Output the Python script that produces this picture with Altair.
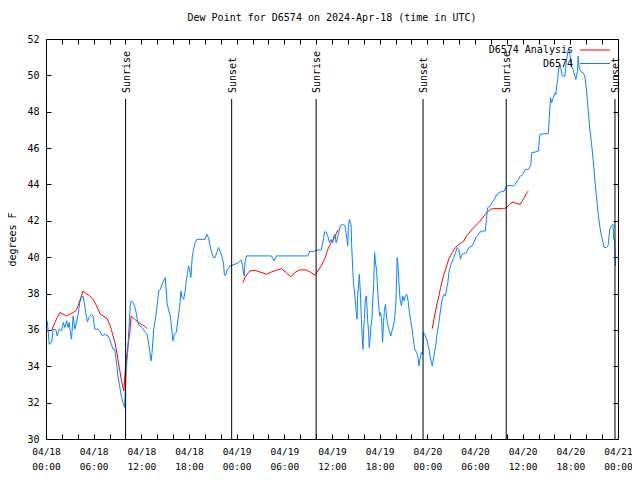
import altair as alt
import pandas as pd

FONT = "DejaVu Sans Mono"
BASE = "2024-04-18T00:00:00Z"

TITLE = "Dew Point for D6574 on 2024-Apr-18 (time in UTC)"
SERIES = ["D6574 Analysis", "D6574"]
COLORS = ["#ff0000", "#0a84ff"]

# Observed D6574 dew point (hours after 2024-04-18 00:00 UTC, degrees F)
BLUE_HOURS = [
    0.16, 0.41, 0.70, 0.91, 1.25, 1.41, 1.67, 1.96, 2.17, 2.38, 2.58, 2.79, 2.92, 3.08, 3.21,
    3.42, 3.63, 3.84, 4.04, 4.25, 4.46, 4.67, 4.88, 5.00, 5.21, 5.42, 5.71, 5.92, 6.13, 6.55,
    6.76, 7.09, 7.38, 7.80, 8.01, 8.22, 8.43, 8.64, 8.76, 8.93, 9.05, 9.26, 9.47, 9.68, 9.89,
    10.10, 10.31, 10.43, 10.60, 10.72, 10.93, 11.14, 11.35, 11.56, 11.77, 12.10, 12.52, 12.73,
    12.94, 13.14, 13.23, 13.35, 13.56, 13.77, 13.98, 14.19, 14.40, 14.60, 14.81, 15.02, 15.23,
    15.44, 15.65, 15.86, 15.98, 16.15, 16.40, 16.61, 16.82, 16.98, 17.11, 17.32, 17.53, 17.65,
    17.82, 17.94, 18.07, 18.24, 18.40, 18.57, 18.78, 18.99, 20.03, 20.24, 20.45, 20.66, 20.87,
    21.07, 21.28, 21.49, 21.70, 21.91, 22.12, 22.33, 22.45, 22.58, 22.74, 23.16, 23.79, 24.20,
    24.54, 24.71, 24.83, 24.96, 25.04, 25.25, 28.38, 28.71, 29.00, 32.97, 33.18, 33.60, 34.22,
    34.64, 34.85, 35.06, 35.27, 35.47, 35.68, 35.89, 36.10, 36.23, 36.39, 36.52, 36.64, 37.06,
    37.35, 37.64, 37.77, 37.89, 37.98, 38.06, 38.19, 38.31, 38.40, 38.48, 38.61, 38.73, 38.90,
    39.02, 39.15, 39.23, 39.31, 39.44, 39.57, 39.65, 39.77, 39.90, 39.98, 40.07, 40.19, 40.32,
    40.40, 40.48, 40.61, 40.69, 40.82, 40.90, 41.03, 41.11, 41.24, 41.36, 41.49, 41.61, 41.74,
    41.86, 41.99, 42.11, 42.24, 42.36, 42.49, 42.61, 42.74, 42.86, 42.99, 43.20, 43.40, 43.61,
    43.82, 44.03, 44.11, 44.20, 44.32, 44.45, 44.57, 44.74, 44.91, 45.07, 45.24, 45.41, 45.58,
    45.74, 45.91, 46.08, 46.24, 46.41, 46.66, 46.83, 46.95, 47.08, 47.24, 47.41, 47.50, 47.66,
    47.91, 48.21, 48.41, 48.62, 48.83, 49.04, 49.25, 49.46, 49.67, 49.87, 50.08, 50.29, 50.42,
    50.58, 50.71, 50.92, 51.13, 51.34, 51.54, 51.75, 51.96, 52.17, 52.38, 52.92, 53.22, 53.63,
    53.84, 54.17, 54.47, 54.76, 55.30, 55.43, 55.59, 55.93, 56.14, 56.43, 56.76, 57.18, 57.68,
    57.93, 58.43, 58.85, 59.06, 59.27, 59.48, 59.68, 60.02, 60.31, 60.73, 61.02, 61.14, 61.56,
    61.98, 62.10, 62.19, 62.61, 63.23, 63.36, 63.44, 63.52, 63.65, 63.86, 64.07, 64.19, 64.28,
    64.40, 64.48, 64.61, 64.69, 64.82, 64.99, 65.32, 65.45, 65.61, 65.74, 65.86, 66.03, 66.15,
    66.36, 66.57, 66.69, 66.78, 66.90, 66.99, 67.11, 67.28, 67.61, 67.82, 68.03, 68.24, 68.45,
    68.66, 68.87, 69.08, 69.28, 69.49, 69.70, 69.91, 70.12, 70.25, 70.54, 70.75, 70.96, 71.16,
    71.37, 71.46, 71.58, 71.70,
]
BLUE_VALUES = [
    36.50, 35.21, 35.31, 36.04, 36.00, 35.67, 36.04, 35.95, 36.41, 36.13, 36.50, 36.13, 36.41, 35.86, 35.49,
    36.77, 36.04, 36.41, 36.86, 37.50, 37.78, 37.87, 37.32, 36.96, 36.44, 36.68, 36.86, 36.77, 36.04, 36.04,
    35.95, 35.67, 35.76, 35.67, 35.49, 35.21, 34.94, 34.94, 34.57, 34.02, 33.47, 32.92, 32.38, 32.01, 31.74,
    33.84, 34.94, 36.04, 37.32, 37.60, 37.50, 37.32, 36.96, 36.41, 36.22, 36.13, 35.86, 35.76,
    35.21, 34.57, 34.30, 34.76, 36.04, 36.59, 37.32, 38.14, 38.24, 38.51, 38.69, 38.88, 37.50,
    37.05, 36.77, 35.86, 35.40, 35.76, 35.86, 36.59, 37.23, 38.14, 37.78, 37.69, 38.14, 38.69,
    39.15, 39.52, 39.34, 38.88, 39.98, 40.43, 40.80, 40.98, 40.98, 41.26, 41.07, 40.62, 40.25,
    39.98, 39.98, 40.25, 40.53, 40.34, 40.07, 39.70, 39.06, 38.97, 39.24, 39.52, 39.61, 39.70,
    39.85, 39.61, 39.24, 38.97, 39.70, 40.07, 40.07, 39.79, 40.07, 40.07, 40.34, 40.29, 40.40,
    40.40, 40.80, 41.39, 41.39, 41.17, 40.80, 40.98, 40.80, 41.17, 41.26, 40.80, 40.98, 41.75,
    41.81, 41.72, 41.35, 40.98, 40.62, 41.63, 42.08, 41.90, 41.81, 40.62, 39.34, 38.42, 37.78,
    37.14, 36.59, 37.87, 38.24, 39.06, 38.05, 37.14, 35.86, 34.94, 36.04, 36.59, 37.69, 37.87,
    37.32, 36.59, 35.86, 35.03, 35.67, 36.22, 36.59, 37.50, 38.42, 40.25, 39.61, 39.34, 38.24,
    37.41, 36.77, 36.96, 36.59, 35.31, 36.41, 37.14, 37.41, 36.77, 36.31, 35.95, 35.67, 36.04,
    36.41, 37.32, 38.42, 39.98, 39.43, 38.42, 37.69, 37.32, 37.87, 37.60, 37.87, 37.96, 37.60,
    36.96, 36.50, 36.04, 35.49, 34.94, 34.76, 34.48, 34.02, 34.39, 34.76, 34.66, 35.86, 35.76,
    35.49, 34.94, 34.39, 34.02, 34.57, 35.12, 35.86, 36.41, 37.14, 37.69, 37.96, 37.87, 38.24,
    38.60, 39.15, 39.52, 39.79, 39.98, 40.25, 40.53, 40.43, 39.88, 40.16, 40.25, 40.53, 40.62,
    40.80, 41.13, 41.26, 41.44, 41.44, 42.08, 42.72, 42.81, 43.00, 43.18, 43.46, 43.58, 43.64,
    43.91, 43.95, 43.91, 44.01, 44.19, 44.28, 44.46, 44.55, 44.83, 44.83, 45.05, 45.75, 45.78,
    45.84, 46.48, 46.75, 46.79, 46.79, 47.76, 48.31, 48.77, 48.49, 48.77, 49.04, 48.95, 49.41,
    49.77, 50.14, 50.51, 50.60, 50.32, 49.96, 49.96, 50.60, 51.06, 51.42, 51.33, 50.97, 50.51,
    50.32, 49.96, 49.77, 49.96, 50.23, 51.06, 50.42, 50.23, 50.14, 49.96, 49.23, 48.13, 47.03,
    46.30, 45.38, 44.28, 43.36, 42.45, 41.72, 41.17, 40.80, 40.53, 40.53, 40.62, 41.53, 41.72,
    41.81, 40.98, 40.98, 39.52,
]

# D6574 Analysis, three separate segments
RED_HOURS_1 = [0.70, 1.12, 1.41, 1.75, 2.17, 2.58, 3.00, 3.42, 3.75, 4.04, 4.25, 4.46, 4.67, 5.00,
               5.51, 5.92, 6.26, 6.55, 6.84, 7.18, 7.68, 8.01, 8.22, 8.43, 8.64, 8.84, 9.05, 9.26,
               9.47, 9.68, 9.80, 10.01, 10.31, 10.55, 10.72, 11.14, 11.56, 11.98, 12.35, 12.73]
RED_VALUES_1 = [35.95, 36.41, 36.68, 36.96, 36.86, 36.77, 36.86, 36.96, 37.05, 37.32, 37.60, 37.87,
                38.14, 38.02, 37.87, 37.69, 37.41, 37.14, 36.86, 36.77, 36.63, 36.31, 36.04, 35.67,
                35.40, 34.94, 34.39, 33.84, 33.29, 32.84, 32.65, 34.00, 35.12, 35.90, 36.77, 36.59,
                36.44, 36.31, 36.22, 36.07]
RED_HOURS_2 = [24.79, 25.04, 25.46, 25.67, 26.29, 26.92, 27.75, 28.38, 29.00, 29.63, 30.26, 30.80,
               31.30, 31.93, 32.76, 33.39, 33.81, 34.22, 34.64, 35.06, 35.47, 35.89, 36.31, 36.73]
RED_VALUES_2 = [38.60, 38.88, 39.15, 39.24, 39.28, 39.19, 39.06, 39.19, 39.28, 39.37, 39.15, 38.91,
                39.15, 39.30, 39.30, 39.15, 39.01, 39.24, 39.52, 39.88, 40.43, 40.80, 41.07, 41.50]
RED_HOURS_3 = [48.62, 48.83, 49.04, 49.25, 49.46, 49.67, 49.87, 50.08, 50.29, 50.50, 50.71, 50.92,
               51.13, 51.34, 51.54, 51.75, 52.17, 52.59, 52.92, 53.22, 53.63, 54.05, 54.47, 54.88,
               55.30, 55.59, 55.93, 56.34, 57.60, 57.93, 58.35, 58.77, 59.18, 59.68, 60.02, 60.31,
               60.52, 60.73]
RED_VALUES_3 = [36.07, 36.59, 37.05, 37.50, 37.87, 38.33, 38.69, 39.06, 39.34, 39.61, 39.92, 40.07,
                40.25, 40.40, 40.53, 40.62, 40.76, 40.89, 41.17, 41.31, 41.53, 41.72, 41.90, 42.12,
                42.36, 42.49, 42.63, 42.67, 42.67, 42.72, 42.91, 43.03, 42.96, 42.91, 43.14, 43.36,
                43.55, 43.64]

SUN_HOURS = [10.02, 23.37, 34.00, 47.46, 57.93, 71.62]
SUN_LABELS = ["Sunrise", "Sunset", "Sunrise", "Sunset", "Sunrise", "Sunset"]

Y_TICKS = [30, 32, 34, 36, 38, 40, 42, 44, 46, 48, 50, 52]
X_TICK_HOURS = list(range(0, 73, 2))
X_DOMAIN_HOURS = [0, 72]

base_ms = int(pd.Timestamp(BASE).value // 10**6)


def to_ms(h):
    return base_ms + int(round(h * 3600000))


rows = []
for seg, (hs, vs) in enumerate([(RED_HOURS_1, RED_VALUES_1), (RED_HOURS_2, RED_VALUES_2),
                                (RED_HOURS_3, RED_VALUES_3)]):
    for h, v in zip(hs, vs):
        rows.append({"t": to_ms(h), "v": v, "series": SERIES[0], "seg": seg})
for h, v in zip(BLUE_HOURS, BLUE_VALUES):
    rows.append({"t": to_ms(h), "v": v, "series": SERIES[1], "seg": 10})
lines_df = pd.DataFrame(rows)

sun_df = pd.DataFrame({"t": [to_ms(h) for h in SUN_HOURS], "label": SUN_LABELS})

x_ticks = [to_ms(h) for h in X_TICK_HOURS]
x_scale = alt.Scale(type="utc", domain=[to_ms(X_DOMAIN_HOURS[0]), to_ms(X_DOMAIN_HOURS[1])], nice=False)
y_scale = alt.Scale(domain=[30, 52], nice=False, zero=False)
color_scale = alt.Scale(domain=SERIES, range=COLORS)

common_axis = dict(offset=-5, tickSize=5, domain=False, grid=False, tickColor="black",
                   labelFont=FONT, labelFontSize=10, labelColor="black",
                   titleFont=FONT, titleFontSize=10, titleFontWeight="normal", titleColor="black")

x_bottom_axis = dict(common_axis, labelFontSize=9.5)
x_bottom = alt.Axis(
    orient="bottom", values=x_ticks, title=None,
    labelExpr="utchours(datum.value) % 6 == 0 ? [utcFormat(datum.value, '%m/%d'), utcFormat(datum.value, '%H:%M')] : ''",
    labelPadding=7, labelBaseline="top", labelLineHeight=15, labelFlush=False, labelOverlap=False,
    **x_bottom_axis)
x_top = alt.Axis(orient="top", values=x_ticks, title=None, labels=False, **common_axis)
y_left = alt.Axis(orient="left", values=Y_TICKS, title="degrees F", labelPadding=7, titlePadding=9,
                  **common_axis)
y_right = alt.Axis(orient="right", values=Y_TICKS, title=None, labels=False, **common_axis)

lines = alt.Chart(lines_df).mark_line(strokeWidth=1, clip=True).encode(
    x=alt.X("t:T", scale=x_scale, axis=x_bottom),
    y=alt.Y("v:Q", scale=y_scale, axis=y_left),
    color=alt.Color("series:N", scale=color_scale, legend=None),
    detail="seg:N",
    order=alt.Order("t:Q"),
)

frame_axes = alt.Chart(lines_df).mark_line(opacity=0).encode(
    x=alt.X("t:T", scale=x_scale, axis=x_top),
    y=alt.Y("v:Q", scale=y_scale, axis=y_right),
    detail="seg:N",
)

sun_rules = alt.Chart(sun_df).mark_rule(color="black", strokeWidth=1).encode(
    x=alt.X("t:T", scale=x_scale, axis=None),
    y=alt.value(60),
    y2=alt.value(400),
)

sun_text = alt.Chart(sun_df).mark_text(angle=270, align="left", baseline="middle", font=FONT,
                                       fontSize=10, color="black", dy=1).encode(
    x=alt.X("t:T", scale=x_scale, axis=None),
    y=alt.value(54),
    text="label:N",
)

legend_layers = []
for i, (name, col) in enumerate(zip(SERIES, COLORS)):
    ldf = pd.DataFrame({"series": [name]})
    legend_layers.append(
        alt.Chart(ldf).mark_text(align="right", baseline="middle", font=FONT, fontSize=10,
                                 color="black").encode(
            x=alt.value(527), y=alt.value(11 + 13.5 * i), text="series:N")
    )
    legend_layers.append(
        alt.Chart(ldf).mark_rule(strokeWidth=1, color=col).encode(
            x=alt.value(534), x2=alt.value(564), y=alt.value(11 + 13.5 * i))
    )

chart = alt.layer(lines, frame_axes, sun_rules, sun_text, *legend_layers).resolve_axis(
    x="independent", y="independent"
).properties(
    width=572, height=400,
    title=alt.TitleParams(TITLE, font=FONT, fontSize=10, fontWeight="normal", color="black",
                          anchor="middle", offset=11),
    autosize=alt.AutoSizeParams(type="none"),
    padding={"left": 38, "top": 31, "right": 14, "bottom": 33},
    background="white",
).configure_view(stroke="black", strokeWidth=1)

chart.save("out.html", embed_options={"renderer": "svg", "actions": False})
